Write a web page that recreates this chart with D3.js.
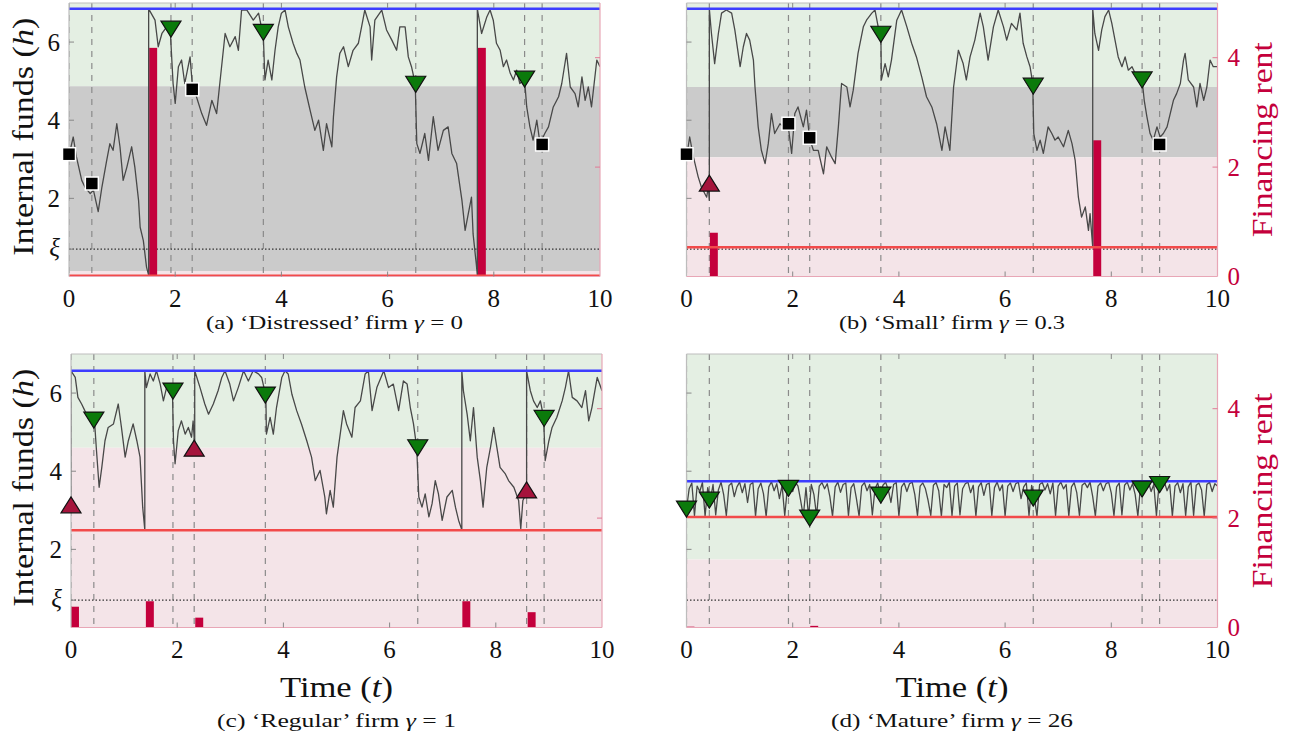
<!DOCTYPE html>
<html>
<head>
<meta charset="utf-8">
<script src="https://cdn.jsdelivr.net/npm/d3@7"></script>
<style>
  body { margin: 0; background: #fff; }
  text { font-family: "Liberation Serif", "DejaVu Serif", serif; }
</style>
</head>
<body>
<svg id="chart" width="1291" height="745"></svg>
<script>
// ---- data ----
const shockTimes = [0.43, 1.92, 2.32, 3.66, 6.53, 8.58, 8.91];
const xTicks = [0, 2, 4, 6, 8, 10];
const hTicks = [2, 4, 6];
const xi = 0.7;
const rentTicks = [0, 2, 4];

const captions = ["‘Distressed’ firm", "‘Small’ firm", "‘Regular’ firm", "‘Mature’ firm"];
const captionTags = ["(a)", "(b)", "(c)", "(d)"];
const gammas = ["0", "0.3", "1", "26"];

// payout barrier (blue), financing barrier (red), start of green / gray zone
const upperBarrier = [6.85, 6.85, 6.57, 3.74];
const lowerBarrier = [0.02, 0.75, 2.49, 2.83];
const greenFrom = [4.87, 4.85, 4.6, 1.74];
const grayFrom = [0.14, 3.05, null, null];

// internal funds paths [t, h]
const pathA = [[0,3.1],[0.08,3.57],[0.14,3.06],[0.24,2.46],[0.30,2.29],[0.40,2.12],[0.46,2.21],[0.55,1.66],[0.62,2.29],[0.71,2.97],[0.77,3.40],[0.83,3.23],[0.90,3.91],[0.96,3.32],[1.02,2.46],[1.09,2.80],[1.18,3.32],[1.24,2.80],[1.31,1.95],[1.34,1.26],[1.40,0.92],[1.46,0.24],[1.50,0.03],[1.50,6.85],[1.62,6.56],[1.68,5.88],[1.75,6.22],[1.84,6.39],[1.91,6.22],[1.96,4.94],[2.00,4.43],[2.06,5.37],[2.12,5.54],[2.18,4.94],[2.28,5.62],[2.32,4.94],[2.40,4.60],[2.50,4.17],[2.59,3.87],[2.69,4.51],[2.78,4.17],[2.84,4.94],[2.94,6.22],[3.03,5.88],[3.13,6.14],[3.19,5.79],[3.25,6.82],[3.35,6.82],[3.47,6.56],[3.57,6.74],[3.66,6.14],[3.69,5.03],[3.75,5.54],[3.82,5.03],[3.88,5.79],[3.94,6.39],[4.00,6.74],[4.07,6.82],[4.13,6.39],[4.22,5.97],[4.29,5.71],[4.35,5.54],[4.44,4.85],[4.54,4.26],[4.63,3.74],[4.70,4.00],[4.79,3.23],[4.85,3.91],[4.95,3.32],[4.98,4.09],[5.04,5.11],[5.10,5.71],[5.17,5.88],[5.26,5.37],[5.35,5.79],[5.45,5.97],[5.51,6.39],[5.57,6.82],[5.67,6.39],[5.70,5.54],[5.76,6.56],[5.89,6.82],[5.98,6.31],[6.08,6.05],[6.17,5.79],[6.23,6.39],[6.33,6.39],[6.39,5.62],[6.45,5.37],[6.52,4.94],[6.55,3.40],[6.61,3.15],[6.70,3.66],[6.77,2.97],[6.86,4.09],[6.95,3.23],[7.05,3.74],[7.14,3.83],[7.21,3.15],[7.30,2.89],[7.40,1.95],[7.46,1.18],[7.52,1.61],[7.58,2.03],[7.61,1.09],[7.67,0.32],[7.69,0.03],[7.69,6.85],[7.77,6.22],[7.87,6.65],[7.93,6.82],[7.99,6.56],[8.05,5.97],[8.12,5.79],[8.18,5.37],[8.24,5.54],[8.31,5.20],[8.37,5.03],[8.43,5.28],[8.49,4.94],[8.58,5.03],[8.62,4.34],[8.68,3.83],[8.74,3.49],[8.81,4.00],[8.87,3.40],[8.96,3.66],[9.03,3.83],[9.12,4.34],[9.22,4.60],[9.28,4.94],[9.37,5.71],[9.44,4.85],[9.53,4.68],[9.59,4.34],[9.66,5.11],[9.72,4.51],[9.78,4.85],[9.84,4.34],[9.94,5.54],[10,5.37]];

const pathB = [[0,3.06],[0.06,3.57],[0.13,3.06],[0.22,2.55],[0.28,2.29],[0.38,2.03],[0.41,2.29],[0.43,1.95],[0.43,6.85],[0.47,6.22],[0.53,5.45],[0.60,6.22],[0.66,6.74],[0.75,6.82],[0.85,6.74],[0.91,6.31],[1.01,5.37],[1.07,5.88],[1.13,6.22],[1.19,6.05],[1.26,5.54],[1.29,4.85],[1.35,3.83],[1.41,3.23],[1.48,2.89],[1.54,3.40],[1.60,4.17],[1.66,3.66],[1.76,3.91],[1.82,3.83],[1.91,3.91],[1.98,3.15],[2.04,4.17],[2.10,4.34],[2.20,3.83],[2.26,4.26],[2.32,3.53],[2.39,3.23],[2.48,3.23],[2.58,2.63],[2.64,3.32],[2.73,3.06],[2.80,2.89],[2.86,3.83],[2.92,4.94],[3.02,4.85],[3.08,4.34],[3.14,4.77],[3.23,5.71],[3.33,6.39],[3.39,6.56],[3.49,6.74],[3.55,6.82],[3.61,6.39],[3.66,6.22],[3.67,5.03],[3.74,5.45],[3.80,5.11],[3.86,5.54],[3.96,6.56],[4.05,6.82],[4.15,6.39],[4.24,5.97],[4.33,5.62],[4.43,5.11],[4.52,4.60],[4.62,4.34],[4.71,3.91],[4.81,3.23],[4.87,3.83],[4.96,3.23],[5.03,4.85],[5.12,5.79],[5.21,5.45],[5.27,5.03],[5.34,5.62],[5.43,6.05],[5.53,6.74],[5.59,6.39],[5.68,5.54],[5.78,6.39],[5.87,6.82],[5.97,6.39],[6.03,6.05],[6.12,6.48],[6.22,6.31],[6.28,6.74],[6.34,5.97],[6.41,5.62],[6.47,5.37],[6.52,4.94],[6.54,3.66],[6.60,3.23],[6.66,3.49],[6.72,3.15],[6.81,3.83],[6.88,3.66],[6.94,3.49],[7.00,3.57],[7.10,3.32],[7.19,3.74],[7.26,3.40],[7.32,2.97],[7.38,2.03],[7.44,1.52],[7.51,1.78],[7.57,1.18],[7.60,1.61],[7.65,0.75],[7.65,6.85],[7.69,6.22],[7.76,5.79],[7.82,6.31],[7.88,6.65],[7.95,6.82],[8.01,6.48],[8.07,6.05],[8.13,5.62],[8.20,5.37],[8.26,5.62],[8.32,5.28],[8.39,5.37],[8.48,5.11],[8.58,5.03],[8.62,4.51],[8.67,4.09],[8.73,3.66],[8.79,3.49],[8.86,3.83],[8.92,3.57],[8.98,3.66],[9.05,3.83],[9.11,4.17],[9.17,4.51],[9.23,4.68],[9.30,4.94],[9.36,5.54],[9.39,5.71],[9.45,5.03],[9.55,4.85],[9.61,4.34],[9.67,4.94],[9.74,4.51],[9.80,4.85],[9.86,5.54],[9.92,5.37],[10,5.37]];

const pathC = [[0,3.12],[0,6.57],[0.08,6.40],[0.13,5.89],[0.20,5.72],[0.26,5.55],[0.33,5.38],[0.39,5.29],[0.44,5.34],[0.48,4.53],[0.53,3.59],[0.58,4.10],[0.64,4.78],[0.70,5.12],[0.80,5.21],[0.89,5.72],[0.95,5.12],[1.02,4.36],[1.08,4.78],[1.17,5.21],[1.24,4.78],[1.30,4.36],[1.35,3.08],[1.39,2.50],[1.39,6.57],[1.42,6.14],[1.49,6.49],[1.55,6.31],[1.61,6.57],[1.68,6.23],[1.74,5.80],[1.80,6.14],[1.86,6.23],[1.91,6.06],[1.93,4.78],[1.96,4.19],[2.02,5.04],[2.08,5.29],[2.15,4.95],[2.21,5.12],[2.27,4.87],[2.30,5.29],[2.33,4.61],[2.33,6.57],[2.43,6.14],[2.52,5.72],[2.59,5.46],[2.68,5.72],[2.77,6.06],[2.84,6.40],[2.90,6.57],[2.99,6.23],[3.06,5.80],[3.15,6.14],[3.25,6.57],[3.34,6.31],[3.43,6.57],[3.53,6.49],[3.59,6.40],[3.67,5.93],[3.68,4.95],[3.75,5.38],[3.81,4.95],[3.87,5.63],[3.97,6.40],[4.03,6.57],[4.09,6.49],[4.16,5.97],[4.25,5.55],[4.34,5.21],[4.44,4.78],[4.53,4.36],[4.60,3.76],[4.69,4.02],[4.78,3.34],[4.81,2.91],[4.88,3.51],[4.94,3.08],[5.01,4.36],[5.07,4.95],[5.13,5.55],[5.19,5.21],[5.29,4.87],[5.35,5.63],[5.45,5.80],[5.54,6.49],[5.60,6.57],[5.67,5.55],[5.76,6.14],[5.89,6.57],[5.98,6.14],[6.07,6.23],[6.17,5.55],[6.26,6.31],[6.33,6.23],[6.39,5.63],[6.45,5.21],[6.51,4.61],[6.55,3.34],[6.61,3.08],[6.67,3.42],[6.74,2.83],[6.80,3.17],[6.86,3.76],[6.92,3.42],[6.99,2.74],[7.08,3.34],[7.18,3.51],[7.24,3.08],[7.30,2.74],[7.36,2.50],[7.36,6.57],[7.39,6.06],[7.46,5.46],[7.52,4.78],[7.58,5.63],[7.65,4.36],[7.71,3.76],[7.76,3.08],[7.83,4.10],[7.90,4.61],[7.96,5.12],[8.02,4.61],[8.08,4.10],[8.18,3.93],[8.24,3.76],[8.34,3.59],[8.43,3.25],[8.47,2.53],[8.51,3.25],[8.58,3.45],[8.58,6.57],[8.65,6.06],[8.71,5.80],[8.78,5.63],[8.84,5.80],[8.90,5.38],[8.93,4.27],[9.00,4.78],[9.06,5.12],[9.15,5.38],[9.25,5.80],[9.31,6.14],[9.37,6.57],[9.44,5.89],[9.53,5.80],[9.62,5.63],[9.69,6.06],[9.75,5.29],[9.81,5.63],[9.91,6.40],[10,6.06]];

// mature firm: read every 0.05 time units
const pathDStep = 0.05;
const pathDValues = [
  3.04,3.55,3.70,2.86,3.62,3.48,3.71,2.85,3.58,3.27,3.66,2.88,3.52,3.72,3.40,2.86,3.63,3.70,3.35,3.60,
  3.72,3.45,3.68,3.20,3.66,3.71,2.85,3.55,3.70,3.42,2.84,3.60,3.73,3.50,3.68,3.30,3.64,2.86,3.57,3.70,
  3.48,3.72,3.62,3.25,2.85,3.58,2.83,3.66,3.40,2.86,3.62,3.71,3.55,3.68,3.35,2.85,3.60,3.72,3.46,3.66,
  3.70,2.86,3.58,3.68,3.30,2.85,3.62,3.71,3.50,3.66,2.88,3.55,3.70,3.43,3.64,3.72,3.52,3.20,3.66,3.71,
  2.85,3.60,3.70,3.48,3.68,3.72,3.40,2.86,3.62,3.70,3.55,3.25,2.87,3.64,3.71,3.50,2.85,3.66,3.58,3.72,
  2.86,3.62,3.70,2.88,3.55,3.68,3.72,3.45,3.64,2.85,3.60,3.71,3.38,3.66,3.70,2.86,3.58,3.72,3.50,3.65,
  2.85,3.62,3.70,3.48,3.68,3.72,3.30,3.60,3.70,2.86,3.64,3.34,2.85,3.66,3.71,3.52,3.68,3.42,3.70,2.86,
  3.62,3.72,3.55,3.66,2.85,3.60,3.71,3.45,2.87,3.64,3.70,3.58,3.72,3.35,2.85,3.62,3.70,3.50,3.68,3.72,
  3.44,2.86,3.60,3.70,2.88,3.64,3.72,3.52,3.68,3.40,2.85,3.62,3.55,3.70,3.72,3.48,3.66,2.86,3.69,3.60,
  3.72,3.50,3.66,2.85,3.62,3.71,3.45,3.68,2.86,3.60,3.72,2.87,3.64,3.70,3.52,2.85,3.66,3.72,3.48,3.68,3.62
];
const pathD = pathDValues.map((v, i) => [i * pathDStep, v]);

// financing rent bars [t, rent]
const rentA = [[1.51, 4.18], [7.70, 4.18]];
const rentB = [[0.44, 0.80], [7.66, 2.49]];
const rentC = [[0.0, 0.38], [1.41, 0.48], [2.34, 0.18], [7.37, 0.48], [8.60, 0.28]];
const rentD = [[0.0, 0.015], [0.43, 0.006], [2.33, 0.03], [3.66, 0.006], [6.53, 0.006]];
const rentWidth = 0.15;

// state markers at shock times [kind, t, h]
const markersA = [["sq",0,3.13],["sq",0.43,2.38],["dn",1.92,6.33],["sq",2.32,4.79],["dn",3.66,6.25],["dn",6.53,4.92],["dn",8.58,5.05],["sq",8.91,3.38]];
const markersB = [["sq",0,3.13],["up",0.43,2.39],["sq",1.92,3.91],["sq",2.32,3.55],["dn",3.66,6.2],["dn",6.53,4.87],["dn",8.58,5.03],["sq",8.91,3.38]];
const markersC = [["up",0,3.14],["dn",0.43,5.31],["dn",1.92,6.05],["up",2.32,4.59],["dn",3.66,5.95],["dn",6.53,4.60],["up",8.58,3.52],["dn",8.91,5.35]];
const markersD = [["dn",0,3.03],["dn",0.43,3.26],["dn",1.92,3.56],["dn",2.32,2.80],["dn",3.66,3.39],["dn",6.53,3.31],["dn",8.58,3.54],["dn",8.91,3.66]];

const paths = [pathA, pathB, pathC, pathD];
const rents = [rentA, rentB, rentC, rentD];
const markers = [markersA, markersB, markersC, markersD];

// ---- layout ----
const W = 531, H = 273.5;
const origins = [[69, 3], [686.5, 3], [71, 354], [686.5, 354]];
const captionWidths = [257, 226, 239, 242];
const crimson = "#c4003c";

const svg = d3.select("#chart");
const defs = svg.append("defs");

origins.forEach(([x0, y0], p) => {
  const col = p % 2, row = Math.floor(p / 2);
  const x = d3.scaleLinear().domain([0, 10]).range([x0, x0 + W]);
  const y = d3.scaleLinear().domain([0, 7]).range([y0 + H, y0]);
  const yr = d3.scaleLinear().domain([0, 5]).range([y0 + H, y0]);

  defs.append("clipPath").attr("id", "clip" + p)
    .append("rect").attr("x", x0).attr("y", y0).attr("width", W).attr("height", H);

  const g = svg.append("g");
  const plot = g.append("g").attr("clip-path", `url(#clip${p})`);

  // zones
  plot.append("rect").attr("x", x0).attr("width", W)
    .attr("y", y0).attr("height", y(greenFrom[p]) - y0).attr("fill", "#e4efe3");
  const pinkTop = grayFrom[p] === null ? greenFrom[p] : grayFrom[p];
  if (grayFrom[p] !== null) {
    plot.append("rect").attr("x", x0).attr("width", W)
      .attr("y", y(greenFrom[p])).attr("height", y(grayFrom[p]) - y(greenFrom[p])).attr("fill", "#cbcbcb");
  }
  plot.append("rect").attr("x", x0).attr("width", W)
    .attr("y", y(pinkTop)).attr("height", y(0) - y(pinkTop)).attr("fill", "#f4e4e8");

  // shock times
  plot.selectAll("line.shock").data([0].concat(shockTimes)).enter().append("line")
    .attr("x1", d => x(d)).attr("x2", d => x(d))
    .attr("y1", y0).attr("y2", y0 + H)
    .attr("stroke", "#8a8a8a").attr("stroke-width", 1.2).attr("stroke-dasharray", "6,6");

  // xi level
  plot.append("line").attr("x1", x0).attr("x2", x0 + W)
    .attr("y1", y(xi)).attr("y2", y(xi))
    .attr("stroke", "#333").attr("stroke-width", 1.1).attr("stroke-dasharray", "1.5,2");

  // financing rent bars
  plot.selectAll("rect.rent").data(rents[p]).enter().append("rect")
    .attr("x", d => x(d[0])).attr("width", x(rentWidth) - x(0))
    .attr("y", d => yr(d[1])).attr("height", d => yr(0) - yr(d[1]))
    .attr("fill", crimson);

  // internal funds
  const line = d3.line().x(d => x(d[0])).y(d => y(d[1]));
  plot.append("path").datum(paths[p]).attr("d", line)
    .attr("fill", "none").attr("stroke", "#484848").attr("stroke-width", 1.3)
    .attr("stroke-linejoin", "round");

  // barriers
  plot.append("line").attr("x1", x0).attr("x2", x0 + W)
    .attr("y1", y(upperBarrier[p])).attr("y2", y(upperBarrier[p]))
    .attr("stroke", "#3d3dff").attr("stroke-width", 2.5);
  plot.append("line").attr("x1", x0).attr("x2", x0 + W)
    .attr("y1", y(lowerBarrier[p])).attr("y2", y(lowerBarrier[p]))
    .attr("stroke", "#f24a4a").attr("stroke-width", 2.5);

  // frame
  g.append("line").attr("x1", x0).attr("x2", x0 + W).attr("y1", y0).attr("y2", y0)
    .attr("stroke", "#bdbdbd").attr("stroke-width", 1.2);
  g.append("line").attr("x1", x0).attr("x2", x0).attr("y1", y0).attr("y2", y0 + H)
    .attr("stroke", "#bdbdbd").attr("stroke-width", 1.2);
  g.append("line").attr("x1", x0).attr("x2", x0 + W).attr("y1", y0 + H).attr("y2", y0 + H)
    .attr("stroke", "#e8a6b6").attr("stroke-width", 1.2);
  g.append("line").attr("x1", x0 + W).attr("x2", x0 + W).attr("y1", y0).attr("y2", y0 + H)
    .attr("stroke", "#e8a6b6").attr("stroke-width", 1.2);

  // inward ticks
  const inner = xTicks.slice(1, -1);
  g.selectAll("line.tt").data(inner).enter().append("line")
    .attr("x1", d => x(d)).attr("x2", d => x(d)).attr("y1", y0).attr("y2", y0 + 5)
    .attr("stroke", "#888");
  g.selectAll("line.bt").data(inner).enter().append("line")
    .attr("x1", d => x(d)).attr("x2", d => x(d)).attr("y1", y0 + H).attr("y2", y0 + H - 5)
    .attr("stroke", "#888");
  g.selectAll("line.lt").data(col === 0 ? hTicks.concat([xi]) : hTicks).enter().append("line")
    .attr("x1", x0).attr("x2", x0 + 5).attr("y1", d => y(d)).attr("y2", d => y(d))
    .attr("stroke", "#888");
  g.selectAll("line.rt").data([2, 4]).enter().append("line")
    .attr("x1", x0 + W).attr("x2", x0 + W - 5).attr("y1", d => yr(d)).attr("y2", d => yr(d))
    .attr("stroke", "#e07a95");

  // markers
  markers[p].forEach(([kind, t, h]) => {
    const cx = x(t), cy = y(h);
    if (kind === "sq") {
      g.append("rect").attr("x", cx - 6.5).attr("y", cy - 6.5).attr("width", 13).attr("height", 13)
        .attr("fill", "#000").attr("stroke", "#fff").attr("stroke-width", 1.5);
    } else if (kind === "dn") {
      g.append("path").attr("d", `M${cx - 10},${cy - 8}L${cx + 10},${cy - 8}L${cx},${cy + 8}Z`)
        .attr("fill", "#0b7a0b").attr("stroke", "#111").attr("stroke-width", 1.2);
    } else {
      g.append("path").attr("d", `M${cx - 10},${cy + 8}L${cx + 10},${cy + 8}L${cx},${cy - 8}Z`)
        .attr("fill", "#a5143c").attr("stroke", "#111").attr("stroke-width", 1.2);
    }
  });

  // x tick labels
  g.selectAll("text.xt").data(xTicks).enter().append("text")
    .attr("x", d => x(d)).attr("y", y0 + H + 30)
    .attr("text-anchor", "middle").attr("font-size", 25).attr("fill", "#111")
    .text(d => d);

  if (col === 0) {
    g.selectAll("text.yt").data(hTicks).enter().append("text")
      .attr("x", x0 - 9).attr("y", d => y(d) + 8.5)
      .attr("text-anchor", "end").attr("font-size", 25).attr("fill", "#111")
      .text(d => d);
    g.append("text").attr("x", x0 - 9).attr("y", y(xi) + 7)
      .attr("text-anchor", "end").attr("font-size", 25).attr("font-style", "italic").attr("fill", "#111")
      .text("ξ");
    const t = g.append("text")
      .attr("transform", `translate(33,${y0 + H / 2 - 3}) rotate(-90)`)
      .attr("text-anchor", "middle").attr("font-size", 29).attr("fill", "#111")
      .attr("textLength", 238).attr("lengthAdjust", "spacingAndGlyphs");
    t.append("tspan").text("Internal funds (");
    t.append("tspan").attr("font-style", "italic").text("h");
    t.append("tspan").text(")");
  } else {
    g.selectAll("text.rt").data(rentTicks).enter().append("text")
      .attr("x", x0 + W + 10).attr("y", d => yr(d) + 8.5)
      .attr("text-anchor", "start").attr("font-size", 25).attr("fill", crimson)
      .text(d => d);
    g.append("text")
      .attr("transform", `translate(1272,${y0 + H / 2}) rotate(-90)`)
      .attr("text-anchor", "middle").attr("font-size", 29).attr("fill", crimson)
      .attr("textLength", 195).attr("lengthAdjust", "spacingAndGlyphs")
      .text("Financing rent");
  }

  if (row === 1) {
    const t = g.append("text").attr("x", x0 + W / 2).attr("y", 697)
      .attr("text-anchor", "middle").attr("font-size", 29).attr("fill", "#111")
      .attr("textLength", 113).attr("lengthAdjust", "spacingAndGlyphs");
    t.append("tspan").text("Time (");
    t.append("tspan").attr("font-style", "italic").text("t");
    t.append("tspan").text(")");
  }

  // caption
  const cap = g.append("text").attr("x", x0 + W / 2).attr("y", row === 0 ? 329 : 727)
    .attr("text-anchor", "middle").attr("font-size", 19).attr("fill", "#111")
    .attr("textLength", captionWidths[p]).attr("lengthAdjust", "spacingAndGlyphs");
  cap.append("tspan").text(captionTags[p] + " " + captions[p] + " ");
  cap.append("tspan").attr("font-style", "italic").text("γ");
  cap.append("tspan").text(" = " + gammas[p]);
});
</script>
</body>
</html>
